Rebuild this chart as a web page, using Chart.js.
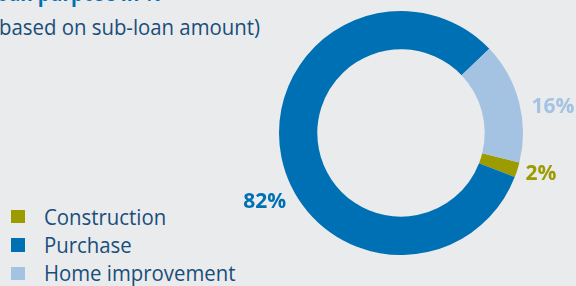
<!DOCTYPE html>
<html>
<head>
<meta charset="utf-8">
<script src="https://cdn.jsdelivr.net/npm/chart.js@4/dist/chart.umd.min.js"></script>
<style>
  html, body { margin: 0; padding: 0; }
  body { width: 576px; height: 286px; background: #E9EBED; position: relative; overflow: hidden; font-family: "Open Sans", sans-serif; }
  #c { position: absolute; left: 0; top: 0; }
  .title { position: absolute; left: -13.8px; top: -18px; font-size: 22.5px; line-height: 22.5px; font-weight: 700; color: #0070B4; white-space: nowrap; transform: scaleX(0.85); transform-origin: 0 0; }
  .subtitle { position: absolute; left: -7.3px; top: 15.5px; font-size: 22.5px; line-height: 22.5px; color: #1A4E7A; white-space: nowrap; transform: scaleX(0.905); transform-origin: 0 0; }
  #legend { position: absolute; left: 11px; top: 202.9px; }
  .row { height: 28.3px; line-height: 28.3px; position: relative; white-space: nowrap; font-size: 22.5px; color: #1A4E7A; }
  .sw { position: absolute; left: 0; top: 7.1px; width: 14px; height: 13.3px; }
  .lbl { position: absolute; left: 32.8px; top: 0; transform: scaleX(0.905); transform-origin: 0 0; }
</style>
</head>
<body>
<div class="title">Loan purpose in %</div>
<div class="subtitle">(based on sub-loan amount)</div>
<div id="legend"></div>
<canvas id="c" width="576" height="286"></canvas>
<script>
const categories = ["Construction", "Purchase", "Home improvement"];
const shares = [2, 82, 16];
const shareLabels = ["2%", "82%", "16%"];
const colors = ["#9C9B00", "#0070B4", "#A4C2E2"];

// HTML legend built from the data arrays
const legend = document.getElementById('legend');
categories.forEach((name, i) => {
  const row = document.createElement('div');
  row.className = 'row';
  const sw = document.createElement('span');
  sw.className = 'sw';
  sw.style.background = colors[i];
  const lbl = document.createElement('span');
  lbl.className = 'lbl';
  lbl.textContent = name;
  row.appendChild(sw);
  row.appendChild(lbl);
  legend.appendChild(row);
});

const sliceLabels = {
  id: 'sliceLabels',
  afterDatasetsDraw(chart, args, opts) {
    const ctx = chart.ctx;
    const meta = chart.getDatasetMeta(0);
    ctx.save();
    ctx.font = '700 21px "Open Sans", sans-serif';
    ctx.textAlign = 'center';
    ctx.textBaseline = 'alphabetic';
    meta.data.forEach((arc, i) => {
      const p = arc.getProps(['x', 'y', 'startAngle', 'endAngle', 'outerRadius'], true);
      const adj = opts.adjust[i];
      const a = (p.startAngle + p.endAngle) / 2 + adj.da * Math.PI / 180;
      const r = p.outerRadius + adj.dr;
      const x = p.x + Math.cos(a) * r;
      const y = p.y + Math.sin(a) * r;
      ctx.fillStyle = colors[i];
      ctx.fillText(shareLabels[i], x, y + 7.5);
    });
    ctx.restore();
  }
};

new Chart(document.getElementById('c'), {
  type: 'doughnut',
  data: {
    labels: categories,
    datasets: [{
      data: shares,
      backgroundColor: colors,
      borderWidth: 0,
      hoverOffset: 0,
      offset: 0
    }]
  },
  options: {
    responsive: false,
    animation: false,
    devicePixelRatio: 1,
    events: [],
    rotation: 104,
    cutout: '68.6%',
    layout: { padding: { left: 279, right: 53, top: 11, bottom: 31 } },
    plugins: {
      legend: { display: false },
      tooltip: { enabled: false },
      title: { display: false },
      sliceLabels: {
        adjust: [
          { da: -1.7, dr: 23.6 },
          { da: -15, dr: 30 },
          { da: 4.4, dr: 32.6 }
        ]
      }
    }
  },
  plugins: [sliceLabels]
});
</script>
</body>
</html>
